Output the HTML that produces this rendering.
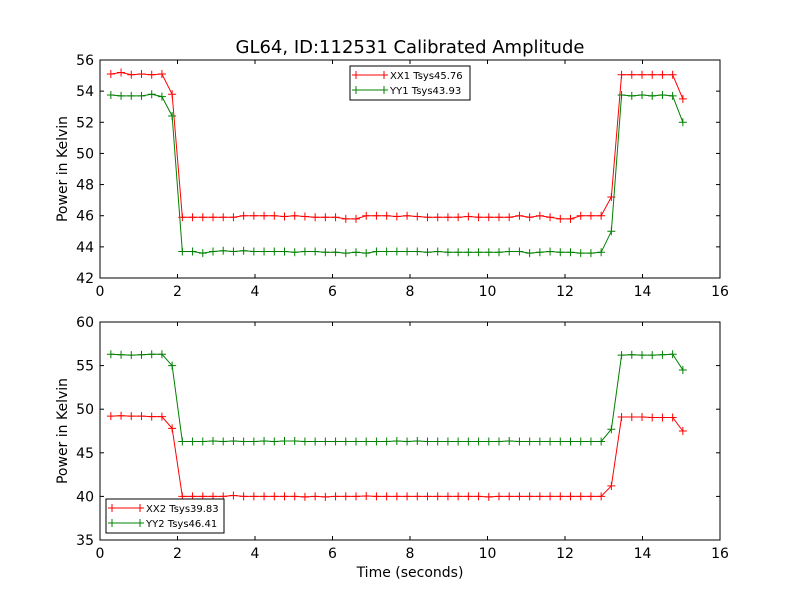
<!DOCTYPE html>
<html><head><meta charset="utf-8"><style>
body{margin:0;background:#fff;}
svg{display:block;font-family:"DejaVu Sans","Liberation Sans",sans-serif;}
</style></head><body>
<svg id="chart" width="800" height="600"></svg>
<script>
const lowXX1=[45.9,45.9,45.9,45.9,45.9,45.9,46.0,46.0,46.0,46.0,45.95,46.0,45.95,45.9,45.9,45.9,45.8,45.8,46.0,46.0,46.0,45.95,46.0,45.95,45.9,45.9,45.9,45.9,45.95,45.9,45.9,45.9,45.9,46.0,45.9,46.0,45.9,45.8,45.8,46.0,46.0,46.0];
const lowYY1=[43.7,43.7,43.6,43.7,43.75,43.7,43.75,43.7,43.7,43.7,43.7,43.65,43.7,43.7,43.65,43.65,43.6,43.65,43.6,43.7,43.7,43.7,43.7,43.7,43.65,43.7,43.65,43.65,43.65,43.65,43.65,43.65,43.7,43.7,43.6,43.65,43.7,43.65,43.65,43.6,43.6,43.65];
const lowXX2=[40.0,40.0,40.0,40.0,40.0,40.1,40.0,40.0,40.0,40.0,40.0,40.0,39.95,40.0,39.95,40.0,40.0,40.0,40.05,40.0,40.0,40.0,40.0,40.0,40.0,40.0,40.0,40.0,40.0,40.0,39.95,40.0,40.0,40.0,40.0,40.0,40.0,40.0,40.0,40.0,40.0,40.0];
const lowYY2=[46.3,46.3,46.3,46.35,46.3,46.35,46.3,46.3,46.35,46.3,46.35,46.35,46.3,46.3,46.3,46.3,46.3,46.3,46.3,46.3,46.3,46.35,46.3,46.35,46.3,46.3,46.3,46.3,46.3,46.3,46.3,46.3,46.35,46.3,46.3,46.3,46.3,46.3,46.3,46.3,46.3,46.3];
const seriesXX1=[55.1,55.2,55.05,55.1,55.05,55.1,53.8].concat(lowXX1,[47.2,55.05,55.05,55.05,55.05,55.05,55.05,53.5]);
const seriesYY1=[53.75,53.7,53.7,53.7,53.8,53.65,52.4].concat(lowYY1,[45.0,53.75,53.7,53.75,53.7,53.75,53.7,52.0]);
const seriesXX2=[49.2,49.25,49.2,49.2,49.15,49.15,47.8].concat(lowXX2,[41.2,49.1,49.1,49.1,49.05,49.05,49.05,47.5]);
const seriesYY2=[56.3,56.25,56.2,56.25,56.3,56.3,55.0].concat(lowYY2,[47.7,56.2,56.25,56.2,56.2,56.25,56.3,54.5]);
const t0=0.28, dt=0.2636;
const xTicks=[0,2,4,6,8,10,12,14,16];
const yTicksTop=[42,44,46,48,50,52,54,56];
const yTicksBot=[35,40,45,50,55,60];
const NS="http://www.w3.org/2000/svg";
const svg=document.getElementById('chart');
function el(tag,attrs,parent){const e=document.createElementNS(NS,tag);for(const k in attrs)e.setAttribute(k,attrs[k]);(parent||svg).appendChild(e);return e;}
const L=100,R=720;
function xs(v){return L+(v-0)/(16-0)*(R-L);}
function drawPanel(top,bot,ymin,ymax,yTicks,series,name,legend){
  const g=el('g',{});
  
  
  const ys=v=>bot-(v-ymin)/(ymax-ymin)*(bot-top);
  el('rect',{x:L,y:top,width:R-L,height:bot-top,fill:'#fff',stroke:'none'},g);
  series.forEach(s=>{
    const sg=el('g',{},g);
    
    
    const pts=s.data.map((v,i)=>[xs(t0+i*dt),ys(v)]);
    el('polyline',{points:pts.map(p=>p.join(',')).join(' '),fill:'none',stroke:s.color,'stroke-width':1},sg);
    pts.forEach(p=>{el('path',{d:`M${p[0]-4},${p[1]}h8M${p[0]},${p[1]-4}v8`,stroke:s.color,'stroke-width':1},sg);});
  });
  xTicks.forEach(v=>{const x=xs(v);
    el('line',{x1:x,y1:bot,x2:x,y2:bot-4,stroke:'#000'},g);
    el('line',{x1:x,y1:top,x2:x,y2:top+4,stroke:'#000'},g);
    const tx=el('text',{x:x,y:bot+18,'font-size':14,'text-anchor':'middle'},g);tx.textContent=v;
    
    
  });
  yTicks.forEach(v=>{const y=ys(v);
    el('line',{x1:L,y1:y,x2:L+4,y2:y,stroke:'#000'},g);
    el('line',{x1:R,y1:y,x2:R-4,y2:y,stroke:'#000'},g);
    const tx=el('text',{x:L-6,y:y+5,'font-size':14,'text-anchor':'end'},g);tx.textContent=v;
    
    
  });
  el('rect',{x:L,y:top,width:R-L,height:bot-top,fill:'none',stroke:'#000','stroke-width':1},g);
  const yl=el('text',{x:0,y:0,'font-size':14,'text-anchor':'middle',transform:`translate(67,${(top+bot)/2}) rotate(-90)`},g);
  yl.textContent='Power in Kelvin';
  
  
  const lg=el('g',{},g);
  
  
  el('rect',{x:legend.x,y:legend.y,width:legend.w,height:34,fill:'#fff',stroke:'#000'},lg);
  series.forEach((s,i)=>{const yy=legend.y+9+i*15;const x0=legend.x+6;
    el('line',{x1:x0,y1:yy,x2:x0+28,y2:yy,stroke:s.color},lg);
    el('path',{d:`M${x0-4},${yy}h8M${x0},${yy-4}v8M${x0+24},${yy}h8M${x0+28},${yy-4}v8`,stroke:s.color},lg);
    const tx=el('text',{x:x0+34,y:yy+4,'font-size':10},lg);tx.textContent=s.label;
    
    
  });
}
const title=el('text',{x:410,y:53,'font-size':18,'text-anchor':'middle'});
title.textContent='GL64, ID:112531 Calibrated Amplitude';


drawPanel(60,278,42,56,yTicksTop,[{name:'series-xx1',label:'XX1 Tsys45.76',color:'#ff0000',data:seriesXX1},{name:'series-yy1',label:'YY1 Tsys43.93',color:'#008000',data:seriesYY1}],'top-panel',{x:350,y:66,w:120});
drawPanel(322,540,35,60,yTicksBot,[{name:'series-xx2',label:'XX2 Tsys39.83',color:'#ff0000',data:seriesXX2},{name:'series-yy2',label:'YY2 Tsys46.41',color:'#008000',data:seriesYY2}],'bottom-panel',{x:106,y:499,w:118});
const xl=el('text',{x:410,y:577,'font-size':14,'text-anchor':'middle'});
xl.textContent='Time (seconds)';


</script>
</body></html>
